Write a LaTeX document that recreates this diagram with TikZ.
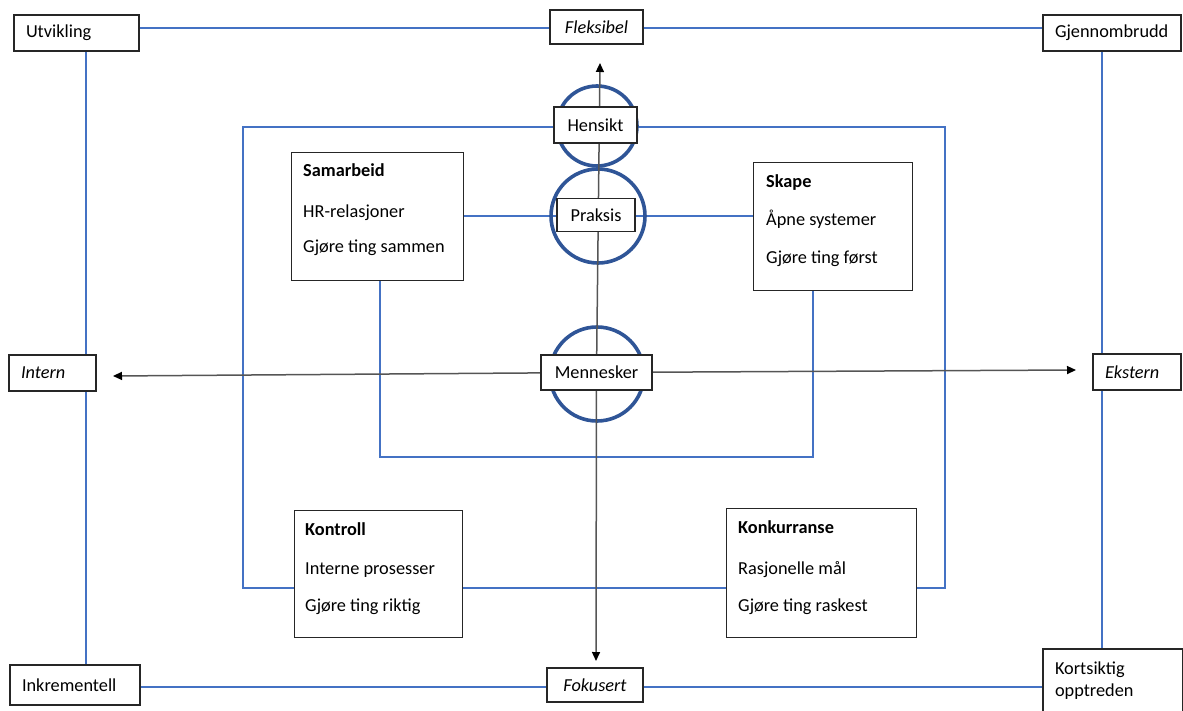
\documentclass[tikz,border=0pt]{standalone}
\usepackage{fontspec}
\setmainfont{Carlito}
\usetikzlibrary{arrows.meta}
\definecolor{framec}{RGB}{68,114,196}
\definecolor{ringc}{RGB}{47,85,151}
\definecolor{axisc}{RGB}{85,85,85}
\pgfdeclarelayer{bg}
\pgfdeclarelayer{mid}
\pgfsetlayers{bg,mid,main}
\begin{document}
\begin{tikzpicture}[x=1pt,y=-1pt,
  font=\fontsize{18.3}{22}\selectfont,
  box/.style={draw=black!85, line width=1.4pt, fill=white, inner sep=0pt},
  lab/.style={box, align=left, inner xsep=12pt, inner ysep=0pt, minimum height=36pt},
  txt/.style={anchor=base west, inner sep=0pt},
  frameline/.style={draw=framec, line width=1.3pt},
  ring/.style={circle, draw=ringc, line width=3.6pt, inner sep=0pt, minimum size=#1},
  axis/.style={draw=axisc, line width=1.5pt, -{Triangle[length=9pt,width=8pt,color=black]}}
]
\useasboundingbox (0,0) rectangle (1183,711);

% corner and side labels of the outer frame
\node[lab, text width=101pt] (utv) at (76.5,33) {Utvikling};
\node[lab, text width=114pt] (gjen) at (1112,33) {Gjennombrudd};
\node[lab, text width=63pt] (int) at (52.5,373) {\itshape Intern};
\node[lab, text width=64pt] (eks) at (1137,372) {\itshape Ekstern};
\node[lab, text width=106pt, minimum height=40pt] (ink) at (75,685) {Inkrementell};
\node[lab, text width=116pt, minimum height=64pt] (kort) at (1113,681) {Kortsiktig\\opptreden};
\node[box, minimum width=93pt, minimum height=34pt] (flek) at (596.5,27) {\itshape Fleksibel};
\node[box, minimum width=96pt, minimum height=34pt] (fok) at (595,685) {\itshape Fokusert};

% central labels on the axis
\node[box, minimum width=83pt, minimum height=36pt] (hen) at (595.5,125) {Hensikt};
\node[box, minimum width=78pt, minimum height=33pt] (pra) at (596,215) {Praksis};
\node[box, minimum width=111pt, minimum height=35pt] (men) at (596.5,372.5) {Mennesker};

% the four quadrant boxes
\node[box, minimum width=172pt, minimum height=128pt, anchor=north west] (sam) at (291,152) {};
\node[txt] (samT) at (303,177) {\bfseries Samarbeid};
\node[txt] (samA) at (303,218) {HR-relasjoner};
\node[txt] (samB) at (303,253) {Gjøre ting sammen};

\node[box, minimum width=159pt, minimum height=128pt, anchor=north west] (ska) at (753,162) {};
\node[txt] (skaT) at (766,188) {\bfseries Skape};
\node[txt] (skaA) at (766,226) {Åpne systemer};
\node[txt] (skaB) at (766,264) {Gjøre ting først};

\node[box, minimum width=168pt, minimum height=127pt, anchor=north west] (kon) at (294,510) {};
\node[txt] (konT) at (305,535) {\bfseries Kontroll};
\node[txt] (konA) at (305,574) {Interne prosesser};
\node[txt] (konB) at (305,611) {Gjøre ting riktig};

\node[box, minimum width=190pt, minimum height=129pt, anchor=north west] (kur) at (726,508) {};
\node[txt] (kurT) at (738,533) {\bfseries Konkurranse};
\node[txt] (kurA) at (738,574) {Rasjonelle mål};
\node[txt] (kurB) at (738,611) {Gjøre ting raskest};

% reference levels of the frames
\coordinate (ftop) at (0,28);
\coordinate (fbot) at (0,687);
\coordinate (flft) at (86,0);
\coordinate (frgt) at (1102,0);
\coordinate (itl) at (243,127);
\coordinate (ibr) at (945,588);
\coordinate (mid) at (0,216);
\coordinate (ucl) at (380,457);
\coordinate (ucr) at (813,457);
\coordinate (upTip) at (600,63);
\coordinate (downTip) at (596,661);
\coordinate (leftTip) at (113,376);
\coordinate (rightTip) at (1076,370);

\begin{pgfonlayer}{bg}
  % outer frame
  \draw[frameline] (utv.east |- ftop) -- (flek.west |- ftop);
  \draw[frameline] (flek.east |- ftop) -- (gjen.west |- ftop);
  \draw[frameline] (ink.east |- fbot) -- (fok.west |- fbot);
  \draw[frameline] (fok.east |- fbot) -- (kort.west |- fbot);
  \draw[frameline] (flft |- utv.south) -- (flft |- int.north);
  \draw[frameline] (flft |- int.south) -- (flft |- ink.north);
  \draw[frameline] (frgt |- gjen.south) -- (frgt |- eks.north);
  \draw[frameline] (frgt |- eks.south) -- (frgt |- kort.north);
  % inner frame through Hensikt
  \draw[frameline] (kon.west |- ibr) -- (itl |- ibr) -- (itl) -- (ibr |- itl) -- (ibr) -- (kur.east |- ibr);
  \draw[frameline] (kon.east |- ibr) -- (kur.west |- ibr);
  % Praksis links
  \draw[frameline] (sam.east |- mid) -- (pra.west |- mid);
  \draw[frameline] (pra.east |- mid) -- (ska.west |- mid);
  \draw[frameline] (ucl |- sam.south) -- (ucl) -- (ucr) -- (ucr |- ska.south);
\end{pgfonlayer}

\begin{pgfonlayer}{mid}
  \node[ring=80pt] (rH) at (597,126) {};
  \node[ring=94pt] (rP) at (598,216) {};
  \node[ring=94pt] (rM) at (597,374) {};
  \draw[axis] (men.center) -- (upTip);
  \draw[axis] (men.center) -- (downTip);
  \draw[axis] (men.center) -- (leftTip);
  \draw[axis] (men.center) -- (rightTip);
\end{pgfonlayer}
\end{tikzpicture}
\end{document}
